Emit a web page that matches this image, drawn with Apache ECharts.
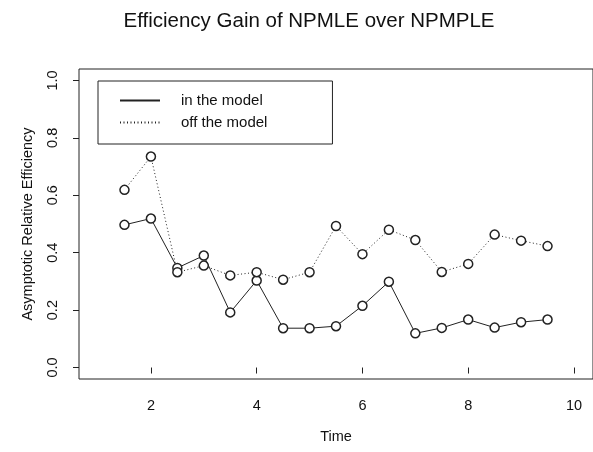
<!DOCTYPE html>
<html>
<head>
<meta charset="utf-8">
<script src="https://cdn.jsdelivr.net/npm/echarts@6/dist/echarts.min.js"></script>
<style>
html,body{margin:0;padding:0;background:#fff;}
#c{width:593px;height:452px;}
</style>
</head>
<body>
<div id="c"></div>
<script>
var times = [1.5, 2, 2.5, 3, 3.5, 4, 4.5, 5, 5.5, 6, 6.5, 7, 7.5, 8, 8.5, 9, 9.5];
var inModel = [0.497, 0.519, 0.347, 0.390, 0.192, 0.303, 0.137, 0.137, 0.144, 0.215, 0.299, 0.119, 0.138, 0.167, 0.139, 0.158, 0.167];
var offModel = [0.619, 0.735, 0.332, 0.355, 0.321, 0.332, 0.306, 0.332, 0.493, 0.395, 0.480, 0.444, 0.333, 0.361, 0.463, 0.442, 0.423];
var xTicks = [2, 4, 6, 8, 10];
var yTicks = [0, 0.2, 0.4, 0.6, 0.8, 1.0];
var seriesNames = ['in the model', 'off the model'];
var titleText = 'Efficiency Gain of NPMLE over NPMPLE';
var xName = 'Time';
var yName = 'Asymptotic Relative Efficiency';

function pairs(vals){ return times.map(function(t,i){ return [t, vals[i]]; }); }

var FONT = '"Liberation Sans", Arial, Helvetica, sans-serif';
var INK = '#222';
var chart = echarts.init(document.getElementById('c'), null, {renderer:'canvas'});
chart.setOption({
  animation: false,
  backgroundColor: '#fff',
  title: {
    text: titleText, left: 304, top: 6, textAlign: 'center',
    textStyle: {fontFamily: FONT, fontSize: 20.5, fontWeight: 'normal', color: '#111'}
  },
  legend: {
    orient: 'vertical', left: 98, top: 81,
    data: seriesNames,
    itemWidth: 40, itemHeight: 14, itemGap: 7,
    padding: [12, 65, 14, 21],
    borderColor: INK, borderWidth: 1, borderRadius: 0,
    itemStyle: {opacity: 0},
    textStyle: {fontFamily: FONT, fontSize: 15, color: '#111', padding: [0,0,0,16]}
  },
  grid: {
    left: 79, top: 69, width: 521, bottom: 73,
    show: true, borderColor: INK, borderWidth: 1, backgroundColor: 'transparent'
  },
  xAxis: {
    type: 'value', min: 0.64, max: 10.36,
    name: xName, nameLocation: 'middle', nameGap: 50,
    nameTextStyle: {fontFamily: FONT, fontSize: 14.5, color: '#111'},
    axisLine: {show: false},
    splitLine: {show: false},
    axisTick: {show: true, inside: false, length: 6, customValues: xTicks, lineStyle: {color: INK}},
    axisLabel: {customValues: xTicks, margin: 19, fontFamily: FONT, fontSize: 14.5, color: '#111'}
  },
  yAxis: {
    type: 'value', min: -0.04, max: 1.04,
    name: yName, nameLocation: 'middle', nameGap: 44,
    nameTextStyle: {fontFamily: FONT, fontSize: 14.5, color: '#111'},
    axisLine: {show: false},
    splitLine: {show: false},
    axisTick: {show: true, inside: false, length: 6, customValues: yTicks, lineStyle: {color: INK}},
    axisLabel: {customValues: yTicks, rotate: 90, margin: 19, fontFamily: FONT, fontSize: 14.5, color: '#111',
      formatter: function(v){ return v.toFixed(1); }}
  },
  series: [
    {
      name: seriesNames[0], type: 'line', data: pairs(inModel),
      symbol: 'circle', symbolSize: 9,
      lineStyle: {color: INK, width: 1, type: 'solid'},
      itemStyle: {color: '#fff', borderColor: INK, borderWidth: 1.5}
    },
    {
      name: seriesNames[1], type: 'line', data: pairs(offModel),
      symbol: 'circle', symbolSize: 9,
      lineStyle: {color: INK, width: 1, type: [1, 2.5]},
      itemStyle: {color: '#fff', borderColor: INK, borderWidth: 1.5}
    }
  ]
});
</script>
</body>
</html>
